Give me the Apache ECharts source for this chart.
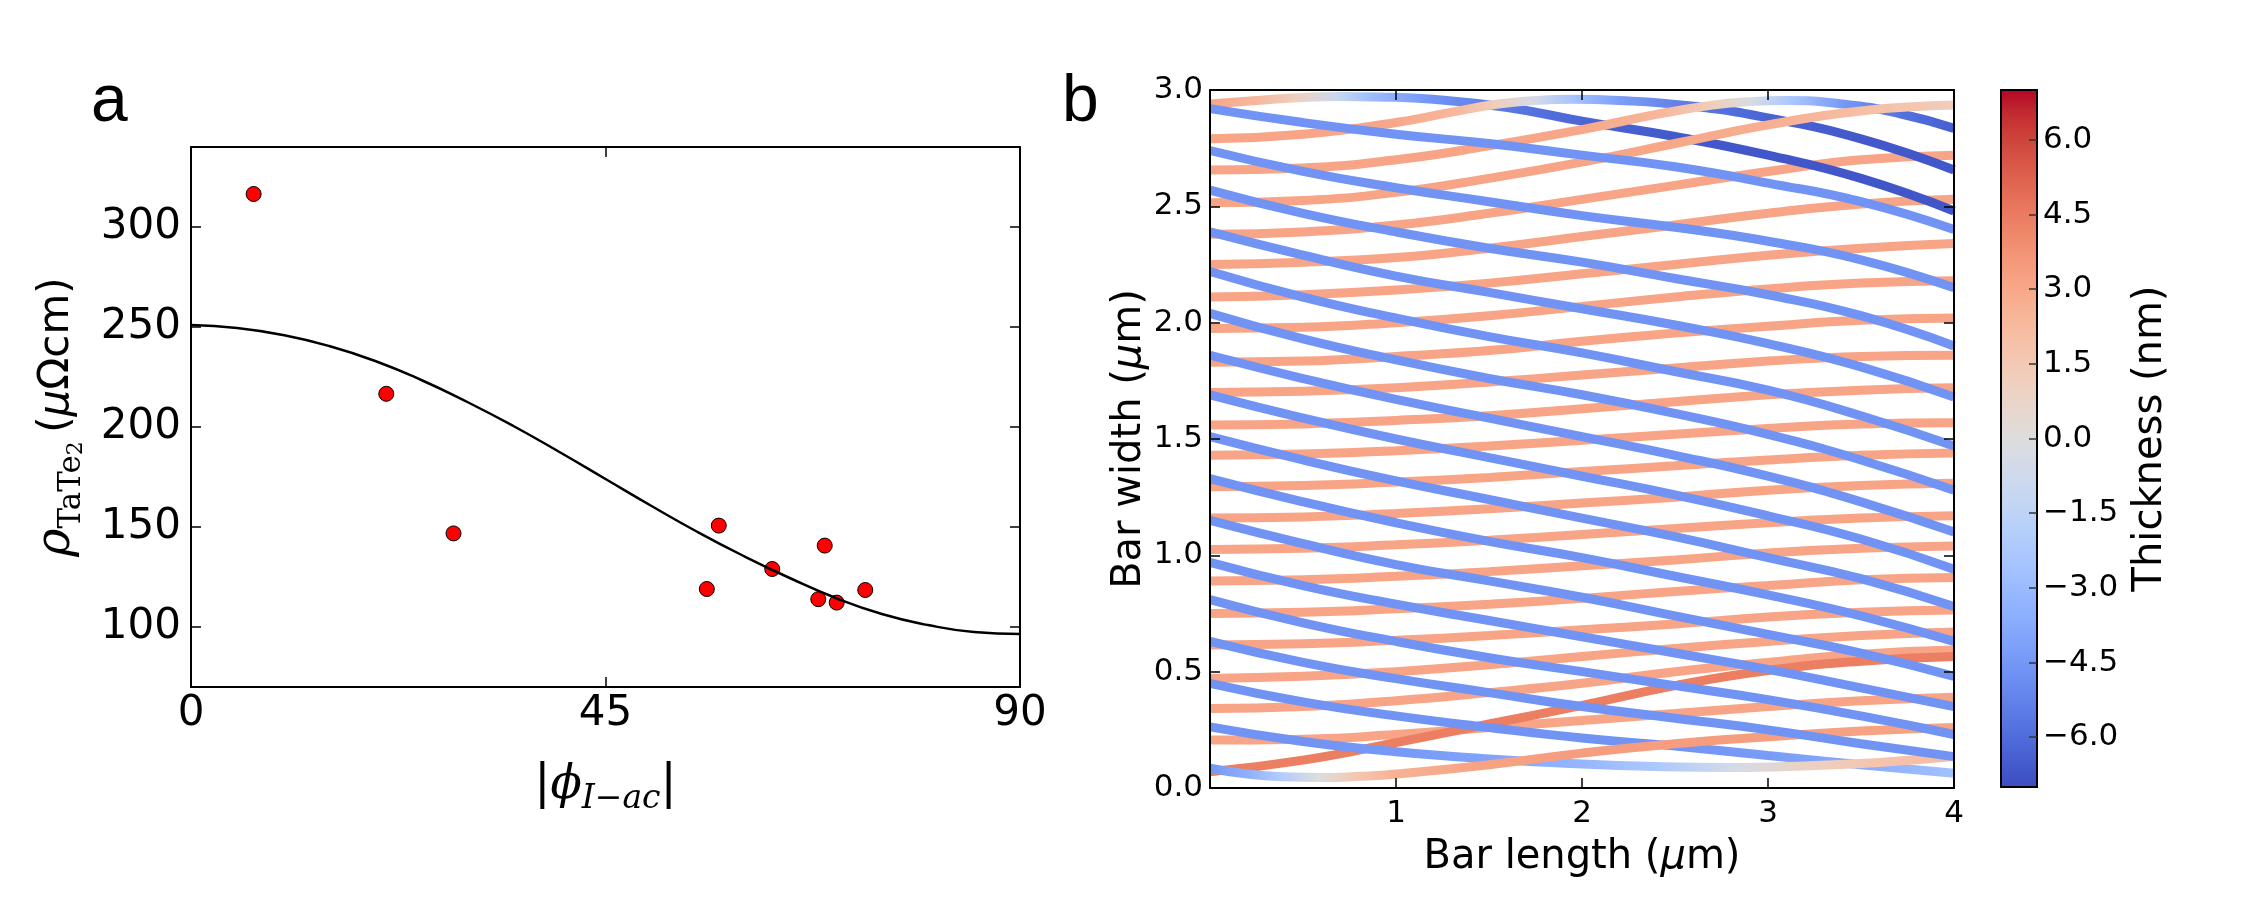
<!DOCTYPE html>
<html>
<head>
<meta charset="utf-8">
<title>TaTe2 resistivity and bar geometry</title>
<script src="https://cdn.jsdelivr.net/npm/echarts@6/dist/echarts.min.js"></script>
<style>
html, body { margin: 0; padding: 0; background: #fff; }
#chart { width: 2261px; height: 900px; }
</style>
</head>
<body>
<div id="chart"></div>
<script>
// ---- panel a: resistivity vs angle ----
const phiFit = [0, 5, 10, 15, 20, 25, 30, 35, 40, 45, 50, 55, 60, 65, 70, 75, 80, 85, 90]
const rhoFit = [251, 249.5, 246, 240.5, 233, 223.5, 212.5, 200.5, 187.5, 174, 160.5, 147.5, 135.5, 124.5, 114.5, 106.5, 101, 97.5, 96.5]
const phiData = [6.8, 21.2, 28.5, 56.0, 57.3, 63.1, 68.1, 68.8, 70.1, 73.2]
const rhoData = [316.5, 216.6, 146.8, 119.0, 150.7, 129.0, 113.9, 140.7, 112.2, 118.5]
const rhoTicks = [100, 150, 200, 250, 300]

// ---- panel b: bar width vs bar length, coloured by thickness ----
const lengthGrid = [0, 0.5, 1, 1.5, 2, 2.5, 3, 3.5, 4]
const orangeThickness = 3.1
const orangeWidths = [
  [2.38, 2.39, 2.42, 2.47, 2.53, 2.59, 2.65, 2.70, 2.72],
  [2.25, 2.26, 2.28, 2.32, 2.37, 2.42, 2.47, 2.51, 2.53],
  [2.11, 2.12, 2.14, 2.17, 2.21, 2.25, 2.29, 2.32, 2.34],
  [1.975, 1.98, 2.0, 2.03, 2.07, 2.11, 2.145, 2.17, 2.18],
  [1.83, 1.835, 1.855, 1.88, 1.92, 1.955, 1.985, 2.01, 2.02],
  [1.70, 1.705, 1.72, 1.745, 1.775, 1.805, 1.835, 1.855, 1.86],
  [1.56, 1.565, 1.58, 1.60, 1.63, 1.66, 1.69, 1.71, 1.72],
  [1.43, 1.435, 1.45, 1.47, 1.495, 1.52, 1.545, 1.565, 1.57],
  [1.295, 1.30, 1.315, 1.335, 1.36, 1.385, 1.41, 1.43, 1.44],
  [1.16, 1.165, 1.18, 1.20, 1.225, 1.25, 1.28, 1.30, 1.31],
  [1.025, 1.03, 1.045, 1.065, 1.09, 1.115, 1.14, 1.16, 1.17],
  [0.89, 0.895, 0.91, 0.93, 0.955, 0.98, 1.01, 1.03, 1.04],
  [0.75, 0.755, 0.77, 0.79, 0.815, 0.845, 0.87, 0.895, 0.905],
  [0.615, 0.62, 0.635, 0.655, 0.68, 0.705, 0.735, 0.755, 0.765],
  [0.471, 0.48, 0.50, 0.53, 0.565, 0.60, 0.63, 0.655, 0.67],
  [0.342, 0.35, 0.375, 0.41, 0.45, 0.50, 0.54, 0.575, 0.593],
  [0.206, 0.21, 0.23, 0.26, 0.29, 0.32, 0.35, 0.375, 0.39]
]
const darkOrangeThickness = 4.4
const darkOrangeWidths = [0.07, 0.12, 0.195, 0.275, 0.355, 0.44, 0.505, 0.545, 0.565]
const blueThickness = -4.6
const blueWidths = [
  [2.92, 2.86, 2.81, 2.77, 2.72, 2.67, 2.60, 2.52, 2.40],
  [2.74, 2.65, 2.58, 2.52, 2.46, 2.41, 2.35, 2.27, 2.15],
  [2.57, 2.47, 2.39, 2.32, 2.26, 2.19, 2.12, 2.03, 1.90],
  [2.39, 2.29, 2.20, 2.13, 2.06, 1.99, 1.91, 1.81, 1.68],
  [2.22, 2.11, 2.02, 1.94, 1.87, 1.79, 1.71, 1.60, 1.47],
  [2.04, 1.93, 1.84, 1.76, 1.69, 1.61, 1.52, 1.41, 1.28],
  [1.86, 1.76, 1.67, 1.59, 1.51, 1.43, 1.34, 1.23, 1.10],
  [1.69, 1.59, 1.50, 1.42, 1.34, 1.26, 1.17, 1.07, 0.94],
  [1.51, 1.41, 1.32, 1.24, 1.16, 1.08, 0.99, 0.90, 0.78],
  [1.33, 1.23, 1.14, 1.06, 0.99, 0.91, 0.83, 0.74, 0.63],
  [1.15, 1.05, 0.96, 0.89, 0.82, 0.74, 0.66, 0.58, 0.48],
  [0.97, 0.87, 0.79, 0.72, 0.65, 0.58, 0.51, 0.43, 0.35],
  [0.81, 0.71, 0.63, 0.56, 0.50, 0.44, 0.38, 0.31, 0.23],
  [0.63, 0.54, 0.47, 0.41, 0.35, 0.30, 0.25, 0.19, 0.135]
]
// lines whose thickness changes along the way (they turn at the top or bottom edge)
const turnLengths = [
  [0, 0.25, 0.5, 0.7, 0.9, 1.2, 1.6, 2.0, 2.5, 3.0, 3.5, 4.0],
  [0, 0.5, 1.0, 1.3, 1.55, 1.75, 1.95, 2.2, 2.6, 3.0, 3.5, 4.0],
  [0, 0.5, 1.0, 1.5, 2.0, 2.4, 2.7, 2.9, 3.1, 3.4, 3.7, 4.0],
  [0, 0.5, 1, 1.5, 2, 2.5, 3, 3.5, 4],
  [0, 0.5, 1, 1.5, 2, 2.5, 3, 3.5, 4],
  [0, 0.5, 1.0, 1.5, 2.0, 2.4, 2.8, 3.2, 3.6, 4.0],
  [0, 0.2, 0.4, 0.6, 0.8, 1.0, 1.5, 2.0, 2.5, 3.0, 3.5, 4.0]
]
const turnWidths = [
  [2.94, 2.955, 2.968, 2.972, 2.97, 2.96, 2.925, 2.866, 2.80, 2.72, 2.62, 2.48],
  [2.79, 2.81, 2.86, 2.905, 2.94, 2.955, 2.96, 2.955, 2.93, 2.88, 2.79, 2.656],
  [2.656, 2.665, 2.70, 2.76, 2.83, 2.895, 2.935, 2.95, 2.955, 2.94, 2.90, 2.835],
  [2.515, 2.525, 2.56, 2.62, 2.69, 2.77, 2.85, 2.91, 2.935],
  [0.45, 0.37, 0.31, 0.26, 0.215, 0.18, 0.14, 0.10, 0.063],
  [0.263, 0.20, 0.156, 0.125, 0.103, 0.092, 0.088, 0.095, 0.11, 0.135],
  [0.085, 0.06, 0.048, 0.045, 0.05, 0.06, 0.10, 0.15, 0.19, 0.22, 0.245, 0.26]
]
const turnThickness = [
  [3.1, 2.4, 1.0, -1.0, -3.0, -4.6, -5.6, -6.2, -6.6, -6.7, -6.7, -6.7],
  [3.1, 3.1, 3.0, 2.4, 1.2, -0.5, -2.5, -4.2, -5.6, -6.3, -6.6, -6.7],
  [3.1, 3.1, 3.1, 3.1, 3.0, 2.4, 1.2, -0.3, -2.2, -4.5, -5.8, -6.5],
  [3.1, 3.1, 3.1, 3.1, 3.1, 3.0, 2.7, 2.0, 1.2],
  [-4.6, -4.6, -4.6, -4.6, -4.6, -4.6, -4.3, -3.6, -2.6],
  [-4.6, -4.6, -4.4, -4.0, -3.2, -2.2, -0.5, 1.0, 1.8, 2.2],
  [-4.6, -3.6, -2.0, 0.0, 1.6, 2.6, 3.2, 3.4, 3.4, 3.3, 3.2, 3.1]
]
const thicknessRange = [-7, 7]
const thicknessTicks = [-6, -4.5, -3, -1.5, 0, 1.5, 3, 4.5, 6]

// matplotlib coolwarm
const coolwarmTable = [
  [59, 76, 192], [68, 90, 204], [77, 104, 215], [87, 117, 225], [98, 130, 234],
  [108, 142, 241], [119, 154, 247], [130, 165, 251], [141, 176, 254], [152, 185, 255],
  [163, 194, 255], [174, 201, 253], [184, 208, 249], [194, 213, 244], [204, 217, 238],
  [213, 219, 230], [221, 221, 221], [229, 216, 209], [236, 211, 197], [241, 204, 185],
  [245, 196, 173], [247, 187, 160], [247, 177, 148], [247, 166, 135], [244, 154, 123],
  [241, 141, 111], [236, 127, 99], [229, 112, 88], [222, 96, 77], [213, 80, 66],
  [203, 62, 56], [192, 40, 47], [180, 4, 38]
]

function coolwarm(t) {
  let f = (t - thicknessRange[0]) / (thicknessRange[1] - thicknessRange[0])
  f = Math.min(1, Math.max(0, f))
  const p = f * (coolwarmTable.length - 1)
  const i = Math.min(coolwarmTable.length - 2, Math.floor(p))
  const k = p - i
  const a = coolwarmTable[i]
  const b = coolwarmTable[i + 1]
  const c = a.map((v, j) => Math.round(v + (b[j] - v) * k))
  return 'rgb(' + c.join(',') + ')'
}

const tickFont = 'DejaVu Sans'

function barLine(xs, ys, ts) {
  let color
  if (ts.every(t => t === ts[0])) {
    color = coolwarm(ts[0])
  } else {
    const x0 = xs[0]
    const x1 = xs[xs.length - 1]
    color = new echarts.graphic.LinearGradient(0, 0, 1, 0,
      xs.map((x, i) => ({ offset: (x - x0) / (x1 - x0), color: coolwarm(ts[i]) })))
  }
  return {
    type: 'line',
    xAxisIndex: 2,
    yAxisIndex: 2,
    data: xs.map((x, i) => [x, ys[i]]),
    smooth: true,
    showSymbol: false,
    symbol: 'none',
    silent: true,
    lineStyle: { width: 9, color: color, cap: 'butt' }
  }
}

const barSeries = []
orangeWidths.forEach(w => barSeries.push(barLine(lengthGrid, w, lengthGrid.map(() => orangeThickness))))
barSeries.push(barLine(lengthGrid, darkOrangeWidths, lengthGrid.map(() => darkOrangeThickness)))
turnLengths.forEach((xs, i) => barSeries.push(barLine(xs, turnWidths[i], turnThickness[i])))
blueWidths.forEach(w => barSeries.push(barLine(lengthGrid, w, lengthGrid.map(() => blueThickness))))

const colorbarStops = coolwarmTable.map((c, i) => ({
  offset: i / (coolwarmTable.length - 1),
  color: 'rgb(' + coolwarmTable[coolwarmTable.length - 1 - i].join(',') + ')'
}))

const tickStyle = { show: true, inside: true, length: 10, lineStyle: { color: '#000', width: 1.5 } }
const spine = { show: true, onZero: false, lineStyle: { color: '#000', width: 2 } }

const option = {
  animation: false,
  backgroundColor: '#fff',
  graphic: [
    { type: 'text', x: 91, y: 103, style: { text: 'a', fontSize: 66, fontFamily: 'Liberation Sans', fill: '#000', verticalAlign: 'middle' } },
    { type: 'text', x: 1062, y: 103, style: { text: 'b', fontSize: 66, fontFamily: 'Liberation Sans', fill: '#000', verticalAlign: 'middle' } }
  ],
  grid: [
    { left: 191, top: 147, width: 829, height: 540 },
    { left: 1210, top: 90, width: 744, height: 698 },
    { left: 2001, top: 90, width: 36, height: 697 }
  ],
  xAxis: [
    {
      gridIndex: 0, type: 'value', position: 'bottom', min: 0, max: 90, interval: 45, z: 10,
      axisLine: spine, axisTick: tickStyle, splitLine: { show: false },
      axisLabel: { fontSize: 42, fontFamily: tickFont, color: '#000', margin: 6 },
      name: '{bar||}{phi|ϕ}{sub|I−ac}{bar||}',
      nameLocation: 'middle', nameGap: 69,
      nameTextStyle: {
        rich: {
          bar: { fontSize: 48, fontFamily: 'DejaVu Sans', color: '#000', lineHeight: 60 },
          phi: { fontSize: 46, fontFamily: 'DejaVu Serif', fontStyle: 'italic', color: '#000', lineHeight: 60 },
          sub: { fontSize: 33, fontFamily: 'DejaVu Serif', fontStyle: 'italic', color: '#000', lineHeight: 28, verticalAlign: 'bottom' }
        }
      }
    },
    {
      gridIndex: 0, type: 'value', position: 'top', min: 0, max: 90, interval: 45, z: 10,
      axisLine: spine, axisTick: tickStyle, axisLabel: { show: false }, splitLine: { show: false }
    },
    {
      gridIndex: 1, type: 'value', position: 'bottom', min: 0, max: 4, interval: 1, z: 10,
      axisLine: spine, axisTick: tickStyle, splitLine: { show: false },
      axisLabel: { fontSize: 31, fontFamily: tickFont, color: '#000', margin: 10, showMinLabel: false },
      name: '{t|Bar length (}{mu|μ}{t|m)}',
      nameLocation: 'middle', nameGap: 46,
      nameTextStyle: {
        rich: {
          t: { fontSize: 40, fontFamily: tickFont, color: '#000', lineHeight: 48 },
          mu: { fontSize: 40, fontFamily: tickFont, fontStyle: 'italic', color: '#000', lineHeight: 48 }
        }
      }
    },
    {
      gridIndex: 1, type: 'value', position: 'top', min: 0, max: 4, interval: 1, z: 10,
      axisLine: spine, axisTick: tickStyle, axisLabel: { show: false }, splitLine: { show: false }
    },
    {
      gridIndex: 2, type: 'category', data: ['bar'], show: false
    }
  ],
  yAxis: [
    {
      gridIndex: 0, type: 'value', position: 'left', min: 70, max: 340, z: 10,
      axisLine: spine, splitLine: { show: false },
      axisTick: Object.assign({}, tickStyle, { customValues: rhoTicks }),
      axisLabel: { fontSize: 42, fontFamily: tickFont, color: '#000', margin: 10, customValues: rhoTicks },
      name: '{rho|ρ}{sub|TaTe}{sub2|2}{sp| }{t|(}{mu|μ}{t|Ωcm)}',
      nameLocation: 'middle', nameRotate: 90, nameGap: 104,
      nameTextStyle: {
        rich: {
          rho: { fontSize: 48, fontFamily: 'DejaVu Serif', fontStyle: 'italic', color: '#000', lineHeight: 60 },
          sub: { fontSize: 31, fontFamily: 'DejaVu Serif', color: '#000', lineHeight: 30, verticalAlign: 'bottom' },
          sub2: { fontSize: 22, fontFamily: 'DejaVu Serif', color: '#000', lineHeight: 22, verticalAlign: 'bottom' },
          sp: { fontSize: 30, color: '#000', lineHeight: 60 },
          t: { fontSize: 42, fontFamily: tickFont, color: '#000', lineHeight: 60 },
          mu: { fontSize: 42, fontFamily: tickFont, fontStyle: 'italic', color: '#000', lineHeight: 60 }
        }
      }
    },
    {
      gridIndex: 0, type: 'value', position: 'right', min: 70, max: 340, z: 10,
      axisLine: spine, splitLine: { show: false },
      axisTick: Object.assign({}, tickStyle, { customValues: rhoTicks }),
      axisLabel: { show: false }
    },
    {
      gridIndex: 1, type: 'value', position: 'left', min: 0, max: 3, interval: 0.5, z: 10,
      axisLine: spine, axisTick: tickStyle, splitLine: { show: false },
      axisLabel: { fontSize: 31, fontFamily: tickFont, color: '#000', margin: 7, formatter: v => v.toFixed(1) },
      name: '{t|Bar width (}{mu|μ}{t|m)}',
      nameLocation: 'middle', nameRotate: 90, nameGap: 56,
      nameTextStyle: {
        rich: {
          t: { fontSize: 40, fontFamily: tickFont, color: '#000', lineHeight: 48 },
          mu: { fontSize: 40, fontFamily: tickFont, fontStyle: 'italic', color: '#000', lineHeight: 48 }
        }
      }
    },
    {
      gridIndex: 1, type: 'value', position: 'right', min: 0, max: 3, interval: 0.5, z: 10,
      axisLine: spine, axisTick: tickStyle, splitLine: { show: false }, axisLabel: { show: false }
    },
    {
      gridIndex: 2, type: 'value', position: 'right', min: thicknessRange[0], max: thicknessRange[1], z: 10,
      axisLine: { show: false }, splitLine: { show: false },
      axisTick: { show: true, inside: true, length: 8, lineStyle: { color: '#333', width: 1.5 }, customValues: thicknessTicks },
      axisLabel: {
        fontSize: 31, fontFamily: tickFont, color: '#000', margin: 6, customValues: thicknessTicks,
        formatter: v => (v < 0 ? '\u2212' + Math.abs(v).toFixed(1) : v.toFixed(1))
      },
      name: 'Thickness (nm)',
      nameLocation: 'middle', nameRotate: 90, nameGap: 94,
      nameTextStyle: { fontSize: 40, fontFamily: tickFont, color: '#000' }
    }
  ],
  series: [
    {
      type: 'line', xAxisIndex: 0, yAxisIndex: 0,
      data: phiFit.map((p, i) => [p, rhoFit[i]]),
      smooth: true, showSymbol: false, symbol: 'none', silent: true,
      lineStyle: { color: '#000', width: 2.5 }
    },
    {
      type: 'scatter', xAxisIndex: 0, yAxisIndex: 0,
      data: phiData.map((p, i) => [p, rhoData[i]]),
      symbol: 'circle', symbolSize: 15, silent: true,
      itemStyle: { color: '#ff0000', borderColor: '#000', borderWidth: 1, opacity: 1 }
    },
    ...barSeries,
    {
      type: 'custom', xAxisIndex: 4, yAxisIndex: 4, silent: true,
      data: [[0, thicknessRange[0], thicknessRange[1]]],
      renderItem: (params, api) => {
        const top = api.coord([api.value(0), api.value(2)])
        const bottom = api.coord([api.value(0), api.value(1)])
        const w = api.size([1, 0])[0]
        return {
          type: 'rect',
          shape: { x: top[0] - w / 2, y: top[1], width: w, height: bottom[1] - top[1] },
          style: {
            fill: new echarts.graphic.LinearGradient(0, 0, 0, 1, colorbarStops),
            stroke: '#000', lineWidth: 2
          }
        }
      }
    }
  ]
}

const chart = echarts.init(document.getElementById('chart'), null, { renderer: 'canvas' })
chart.setOption(option)
</script>
</body>
</html>
